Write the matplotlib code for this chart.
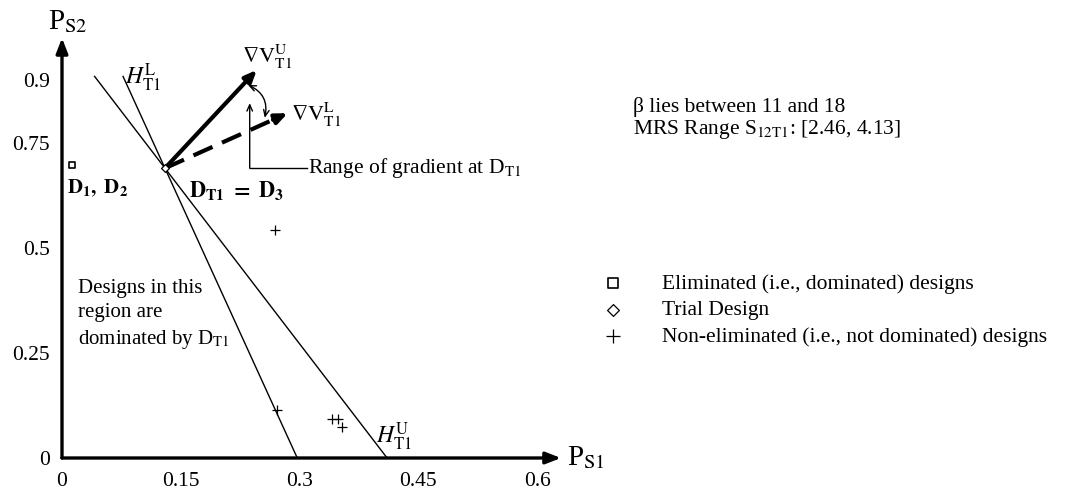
import matplotlib
matplotlib.use("Agg")
import matplotlib.pyplot as plt

# Trial design D_T1 and the bounds of the marginal rate of substitution
trial_x = [0.13]
trial_y = [0.69]
mrs_range = [2.46, 4.13]          # slopes of H_T1^U and H_T1^L
beta_range = [11, 18]

# Eliminated designs D1, D2 (coincident)
elim_x = [0.012]
elim_y = [0.698]

# Non-eliminated designs
kept_x = [0.269, 0.271, 0.341, 0.348, 0.354]
kept_y = [0.543, 0.114, 0.093, 0.093, 0.074]

# Tips of the gradient vectors drawn from D_T1
grad_upper_tip = (0.246, 0.924)
grad_lower_tip = (0.285, 0.821)

x_ticks = [0, 0.15, 0.3, 0.45, 0.6]
y_ticks = [0, 0.25, 0.5, 0.75, 0.9]
x_tick_labels = ["0", "0.15", "0.3", "0.45", "0.6"]
y_tick_labels = ["0", "0.25", "0.5", "0.75", "0.9"]

plt.rcParams["font.family"] = ["Liberation Serif", "DejaVu Serif"]
plt.rcParams["mathtext.fontset"] = "stix"

W, H = 1073, 495
fig = plt.figure(figsize=(W / 100, H / 100), dpi=100)
ox, oy = 62, 458          # origin position (pixels from the left / top)
sx, sy = 792, 420         # pixels per unit along each axis
ax = fig.add_axes([ox / W, (H - oy) / H, (W - ox) / W, oy / H])
ax.set_xlim(0, (W - ox) / sx)
ax.set_ylim(0, oy / sy)
for sp in ax.spines.values():
    sp.set_visible(False)

ax.set_xticks(x_ticks, x_tick_labels)
ax.set_yticks(y_ticks, y_tick_labels)
ax.tick_params(axis="x", length=0, labelsize=15.5, pad=10)
ax.tick_params(axis="y", length=0, labelsize=15.5, pad=9)

# Axes drawn as arrows
axis_arrow = dict(arrowstyle="-|>,head_length=0.9,head_width=0.35", lw=2.4,
                  color="black", shrinkA=0, shrinkB=0)
ax.annotate("", xy=(0.630, 0), xytext=(0, 0), arrowprops=axis_arrow, annotation_clip=False)
ax.annotate("", xy=(0, 1.0), xytext=(0, 0), arrowprops=axis_arrow, annotation_clip=False)
ax.text(0.638, 0.0, r"P$_{\mathrm{S1}}$", fontsize=21, va="center", ha="left")
ax.text(0.007, 1.04, r"P$_{\mathrm{S2}}$", fontsize=21, va="center", ha="center")

# Iso-value lines through D_T1 with slopes from the MRS range
tx, ty = trial_x[0], trial_y[0]
line_top = 0.91
for s in mrs_range:
    ax.plot([tx - (line_top - ty) / s, tx + ty / s], [line_top, 0],
            color="black", lw=1.0, solid_capstyle="butt")

# Design points
h_elim = ax.scatter(elim_x, elim_y, marker="s", s=22, facecolor="white",
                    edgecolor="black", linewidth=1.2, zorder=5)
h_trial = ax.scatter(trial_x, trial_y, marker="D", s=16, facecolor="white",
                     edgecolor="black", linewidth=0.9, zorder=5)
h_kept = ax.scatter(kept_x, kept_y, marker="+", s=45, color="black",
                    linewidth=0.9, zorder=5)

# Gradient vectors
ax.annotate("", xy=grad_upper_tip, xytext=(tx, ty),
            arrowprops=dict(arrowstyle="-|>,head_length=0.7,head_width=0.3",
                            lw=3, color="black", shrinkA=0, shrinkB=0))
gx, gy = grad_lower_tip
ax.plot([tx, tx + 0.9 * (gx - tx)], [ty, ty + 0.9 * (gy - ty)],
        color="black", lw=3, dashes=(5, 2.5))
ax.annotate("", xy=grad_lower_tip, xytext=(tx + 0.88 * (gx - tx), ty + 0.88 * (gy - ty)),
            arrowprops=dict(arrowstyle="-|>,head_length=0.7,head_width=0.3",
                            lw=3, color="black", shrinkA=0, shrinkB=0))

# Angular range between the two gradients
ax.annotate("", xy=(0.256, 0.810), xytext=(0.235, 0.888),
            arrowprops=dict(arrowstyle="<->,head_length=0.45,head_width=0.2",
                            connectionstyle="arc3,rad=-0.4", lw=1.0, color="black",
                            shrinkA=0, shrinkB=0))

# Callout for the range of the gradient
bx = 0.237
ax.annotate("", xy=(bx, 0.845), xytext=(bx, ty),
            arrowprops=dict(arrowstyle="->,head_length=0.45,head_width=0.2",
                            lw=1.0, color="black", shrinkA=0, shrinkB=0))
ax.plot([bx, 0.309], [ty, ty], color="black", lw=1.0)
ax.text(0.311, ty, r"Range of gradient at D$_{\mathrm{T1}}$", fontsize=15.5,
        va="center", ha="left")

# Labels
ax.text(0.259, 0.955, r"$\nabla\mathrm{V}_{\mathrm{T1}}^{\mathrm{U}}$", fontsize=16,
        ha="center", va="center")
ax.text(0.289, 0.818, r"$\nabla\mathrm{V}_{\mathrm{T1}}^{\mathrm{L}}$", fontsize=16,
        ha="left", va="center")
ax.text(0.080, 0.905, r"$H_{\mathrm{T1}}^{\mathrm{L}}$", fontsize=17, ha="left", va="center")
ax.text(0.396, 0.05, r"$H_{\mathrm{T1}}^{\mathrm{U}}$", fontsize=17, ha="left", va="center")
ax.text(0.221, 0.636, r"$\mathbf{D_{T1}\ =\ D_3}$", fontsize=16, ha="center", va="center")
ax.text(0.006, 0.642, r"$\mathbf{D_1,\ D_2}$", fontsize=15, ha="left", va="center")
ax.text(0.020, 0.340,
        "Designs in this\nregion are\n" + r"dominated by D$_{\mathrm{T1}}$",
        fontsize=15, ha="left", va="center", linespacing=1.35)

ax.text(0.721, 0.836, f"\u03b2 lies between {beta_range[0]} and {beta_range[1]}",
        fontsize=15.5, ha="left", va="center")
ax.text(0.721, 0.781,
        r"MRS Range S$_{\mathrm{12T1}}$: " + f"[{mrs_range[0]}, {mrs_range[1]}]",
        fontsize=15.5, ha="left", va="center")

# Legend for the design markers
leg_fs = 15.5
leg = ax.legend([h_elim, h_trial, h_kept],
                ["Eliminated (i.e., dominated) designs", "Trial Design",
                 "Non-eliminated (i.e., not dominated) designs"],
                loc="upper left", bbox_to_anchor=((594 - ox) / (W - ox), (oy - 265) / oy),
                frameon=False, fontsize=leg_fs, handlelength=1.0, handletextpad=1.78,
                labelspacing=0.3, markerscale=1.5, scatterpoints=1,
                borderpad=0.4, borderaxespad=0)

fig.savefig("out.png", dpi=100)
